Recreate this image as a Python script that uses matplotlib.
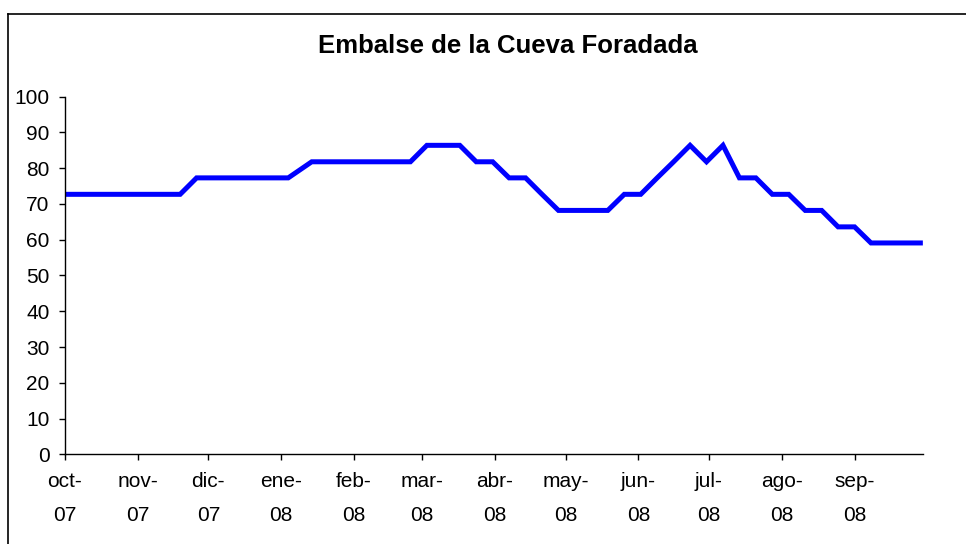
import matplotlib
matplotlib.use("Agg")
import matplotlib.pyplot as plt
from matplotlib.lines import Line2D
import pandas as pd

plt.rcParams['font.family'] = ['Liberation Sans', 'DejaVu Sans']

# weekly readings (% of capacity)
fechas = ["2007-10-01", "2007-10-08", "2007-10-15", "2007-10-22", "2007-10-29",
          "2007-11-05", "2007-11-12", "2007-11-19", "2007-11-26", "2007-12-03",
          "2007-12-10", "2007-12-17", "2007-12-24", "2008-01-04", "2008-01-14",
          "2008-01-21", "2008-01-28", "2008-02-04", "2008-02-11", "2008-02-18",
          "2008-02-25", "2008-03-03", "2008-03-10", "2008-03-17", "2008-03-24",
          "2008-03-31", "2008-04-07", "2008-04-14", "2008-04-21", "2008-04-28",
          "2008-05-05", "2008-05-12", "2008-05-19", "2008-05-26", "2008-06-02",
          "2008-06-09", "2008-06-16", "2008-06-23", "2008-06-30", "2008-07-07",
          "2008-07-14", "2008-07-21", "2008-07-28", "2008-08-04", "2008-08-11",
          "2008-08-18", "2008-08-25", "2008-09-01", "2008-09-08", "2008-09-15",
          "2008-09-22", "2008-09-29"]
porcentaje = [72.7, 72.7, 72.7, 72.7, 72.7, 72.7, 72.7, 72.7, 77.3, 77.3,
              77.3, 77.3, 77.3, 77.3, 81.8, 81.8, 81.8, 81.8, 81.8, 81.8,
              81.8, 86.4, 86.4, 86.4, 81.8, 81.8, 77.3, 77.3, 72.7, 68.2,
              68.2, 68.2, 68.2, 72.7, 72.7, 77.3, 81.8, 86.4, 81.8, 86.4,
              77.3, 77.3, 72.7, 72.7, 68.2, 68.2, 63.6, 63.6, 59.1, 59.1,
              59.1, 59.1]

meses = ["2007-10-01", "2007-11-01", "2007-12-01", "2008-01-01", "2008-02-01",
         "2008-03-01", "2008-04-01", "2008-05-01", "2008-06-01", "2008-07-01",
         "2008-08-01", "2008-09-01"]
etiquetas = ["oct-\n07", "nov-\n07", "dic-\n07", "ene-\n08", "feb-\n08", "mar-\n08",
             "abr-\n08", "may-\n08", "jun-\n08", "jul-\n08", "ago-\n08", "sep-\n08"]

x = pd.to_datetime(fechas)
ticks = pd.to_datetime(meses)

fig = plt.figure(figsize=(9.66, 5.44), dpi=100)
ax = fig.add_axes([65 / 966, 1 - 454.3 / 544, (922.7 - 65) / 966, (454.3 - 96.7) / 544])

ax.plot(x, porcentaje, color='#0000ff', linewidth=3.6, solid_joinstyle='miter')

ax.set_ylim(0, 100)
ax.set_yticks(range(0, 101, 10))
ax.set_xlim(pd.Timestamp("2007-10-01"), pd.Timestamp("2008-09-30"))
ax.set_xticks(ticks)
ax.set_xticklabels(etiquetas, linespacing=1.95)

for s in ['top', 'right']:
    ax.spines[s].set_visible(False)
for s in ['left', 'bottom']:
    ax.spines[s].set_linewidth(1.0)

ax.tick_params(axis='y', direction='out', length=4, width=1, pad=7, labelsize=15)
ax.tick_params(axis='x', direction='out', length=4, width=1, pad=9, labelsize=15)

fig.text(508 / 966, 1 - 46 / 544, "Embalse de la Cueva Foradada", fontsize=18.5,
         fontweight='bold', ha='center', va='center')

# chart border (only left and top visible)
fig.add_artist(Line2D([8.3 / 966, 8.3 / 966], [0, 1 - 14.3 / 544], color='black', lw=1.2,
                      transform=fig.transFigure))
fig.add_artist(Line2D([8.3 / 966, 1], [1 - 14.3 / 544, 1 - 14.3 / 544], color='black', lw=1.2,
                      transform=fig.transFigure))

fig.savefig("out.png", dpi=100)
